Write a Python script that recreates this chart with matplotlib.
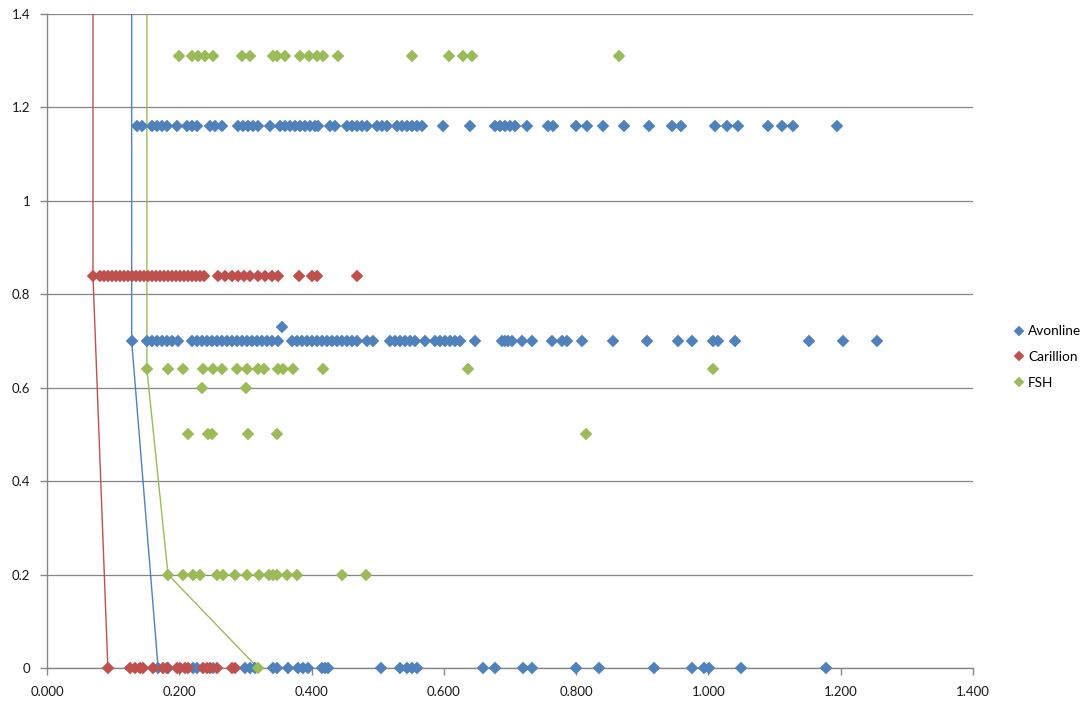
import matplotlib
matplotlib.use("Agg")
import matplotlib.pyplot as plt
from matplotlib.ticker import FuncFormatter, MultipleLocator

plt.rcParams['font.family'] = ['Lato', 'DejaVu Sans']

series_names = ["Avonline", "Carillion", "FSH"]
colors = ["#4F81BD", "#C0504D", "#9BBB59"]

# ---------------- Avonline ----------------
avon_116 = [0.136, 0.144, 0.159, 0.166, 0.174, 0.181, 0.197, 0.212, 0.219, 0.227,
            0.246, 0.254, 0.265, 0.289, 0.296, 0.304, 0.311, 0.319, 0.337, 0.352,
            0.360, 0.367, 0.375, 0.383, 0.390, 0.398, 0.405, 0.410, 0.428, 0.435,
            0.454, 0.461, 0.469, 0.476, 0.484, 0.499, 0.506, 0.514, 0.529, 0.537,
            0.544, 0.552, 0.559, 0.567, 0.599, 0.640, 0.677, 0.685, 0.692, 0.700,
            0.708, 0.726, 0.757, 0.765, 0.800, 0.816, 0.841, 0.872, 0.910, 0.945,
            0.959, 1.010, 1.028, 1.045, 1.090, 1.111, 1.128, 1.194]
avon_070 = [0.128, 0.151, 0.159, 0.166, 0.174, 0.181, 0.189, 0.198,
            0.219, 0.227, 0.234, 0.242, 0.249, 0.257, 0.265, 0.272, 0.280, 0.287,
            0.295, 0.302, 0.310, 0.317, 0.325, 0.333, 0.340, 0.349,
            0.370, 0.378, 0.386, 0.393, 0.401, 0.408, 0.416, 0.423, 0.431, 0.438,
            0.446, 0.454, 0.461, 0.469, 0.484, 0.493,
            0.519, 0.526, 0.534, 0.541, 0.549, 0.556, 0.571,
            0.587, 0.594, 0.602, 0.609, 0.617, 0.624, 0.647,
            0.688, 0.692, 0.697, 0.703, 0.718, 0.733, 0.764, 0.779, 0.786, 0.809,
            0.856, 0.907, 0.954, 0.975, 1.007, 1.014, 1.040, 1.152, 1.203, 1.255]
avon_073 = [0.355]
avon_000 = [0.168, 0.183, 0.221, 0.227, 0.251, 0.299, 0.307, 0.314, 0.342, 0.348,
            0.364, 0.379, 0.387, 0.395, 0.416, 0.420, 0.425, 0.505, 0.534, 0.544,
            0.552, 0.559, 0.659, 0.677, 0.720, 0.733, 0.800, 0.835, 0.918, 0.975,
            0.993, 1.001, 1.049, 1.178]

# ---------------- Carillion ----------------
car_084 = [0.0695, 0.080, 0.086, 0.092, 0.098, 0.104, 0.110, 0.116, 0.122, 0.129,
           0.135, 0.141, 0.147, 0.153, 0.159, 0.165, 0.171, 0.177, 0.183, 0.189,
           0.195, 0.201, 0.207, 0.213, 0.219, 0.225, 0.231, 0.237,
           0.259, 0.269, 0.280, 0.289, 0.298, 0.307, 0.319, 0.330, 0.340, 0.349,
           0.381, 0.401, 0.408, 0.469]
car_000 = [0.092, 0.125, 0.133, 0.141, 0.145, 0.160, 0.175, 0.181, 0.197, 0.201,
           0.209, 0.213, 0.236, 0.242, 0.246, 0.257, 0.280, 0.284]

# ---------------- FSH ----------------
fsh_131 = [0.200, 0.219, 0.228, 0.239, 0.251, 0.295, 0.307, 0.342, 0.348, 0.360,
           0.382, 0.396, 0.408, 0.417, 0.440, 0.552, 0.608, 0.629, 0.643, 0.865]
fsh_064 = [0.151, 0.183, 0.206, 0.236, 0.251, 0.265, 0.287, 0.302, 0.319, 0.328,
           0.349, 0.357, 0.372, 0.417, 0.637, 1.007]
fsh_060 = [0.234, 0.301]
fsh_050 = [0.213, 0.243, 0.249, 0.304, 0.348, 0.815]
fsh_020 = [0.183, 0.206, 0.221, 0.231, 0.257, 0.266, 0.284, 0.302, 0.321, 0.336,
           0.342, 0.348, 0.363, 0.378, 0.446, 0.482]
fsh_000 = [0.319]

# frontier lines (first point lies far above the visible range)
avon_line_x = [0.128, 0.128, 0.168]
avon_line_y = [5.0, 0.70, 0.0]
car_line_x = [0.0695, 0.0695, 0.092]
car_line_y = [5.0, 0.84, 0.0]
fsh_line_x = [0.151, 0.151, 0.183, 0.319]
fsh_line_y = [5.0, 0.64, 0.20, 0.0]

def build(groups):
    xs, ys = [], []
    for level, vals in groups:
        xs += vals
        ys += [level] * len(vals)
    return xs, ys

avon_x, avon_y = build([(1.16, avon_116), (0.70, avon_070), (0.73, avon_073), (0.0, avon_000)])
car_x, car_y = build([(0.84, car_084), (0.0, car_000)])
fsh_x, fsh_y = build([(1.31, fsh_131), (0.64, fsh_064), (0.60, fsh_060),
                      (0.50, fsh_050), (0.20, fsh_020), (0.0, fsh_000)])

fig = plt.figure(figsize=(10.85, 7.02), dpi=100)
ax = fig.add_axes([47 / 1085, 1 - 668 / 702, (973 - 47) / 1085, (668 - 14) / 702])

grid_col = "#868686"
ax.set_xlim(0, 1.4)
ax.set_ylim(0, 1.4)
ax.yaxis.set_major_locator(MultipleLocator(0.2))
ax.xaxis.set_major_locator(MultipleLocator(0.2))
ax.grid(axis="y", color=grid_col, linewidth=0.9, zorder=0)
ax.set_axisbelow(True)

all_x = [avon_x, car_x, fsh_x]
all_y = [avon_y, car_y, fsh_y]
lines = [(avon_line_x, avon_line_y), (car_line_x, car_line_y), (fsh_line_x, fsh_line_y)]

handles = []
for name, c, xs, ys, (lx, ly) in zip(series_names, colors, all_x, all_y, lines):
    ax.plot(lx, ly, color=c, linewidth=1.0, zorder=2, clip_on=True)
    h, = ax.plot(xs, ys, linestyle="none", marker="D", markersize=6.2,
                 markerfacecolor=c, markeredgecolor=c, markeredgewidth=0.3,
                 label=name, zorder=3, clip_on=False)
    handles.append(h)

for s in ["top", "right"]:
    ax.spines[s].set_visible(False)
for s in ["left", "bottom"]:
    ax.spines[s].set_color(grid_col)
    ax.spines[s].set_linewidth(1.0)

ax.tick_params(axis="both", colors=grid_col, length=5, width=1.0, direction="out",
               labelcolor="#1a1a1a", labelsize=9.5)
ax.tick_params(axis="y", pad=7)
ax.tick_params(axis="x", pad=8)
ax.xaxis.set_major_formatter(FuncFormatter(lambda v, p: f"{v:.3f}"))
ax.yaxis.set_major_formatter(FuncFormatter(lambda v, p: f"{v:g}"))

leg = fig.legend(handles=handles, labels=series_names, loc="center left",
                 bbox_to_anchor=(1009 / 1085, 1 - 357 / 702), frameon=False,
                 fontsize=9.8, handlelength=0.6, handletextpad=0.4,
                 labelspacing=1.0, markerscale=0.8, borderaxespad=0)

fig.savefig("out.png", dpi=100)
